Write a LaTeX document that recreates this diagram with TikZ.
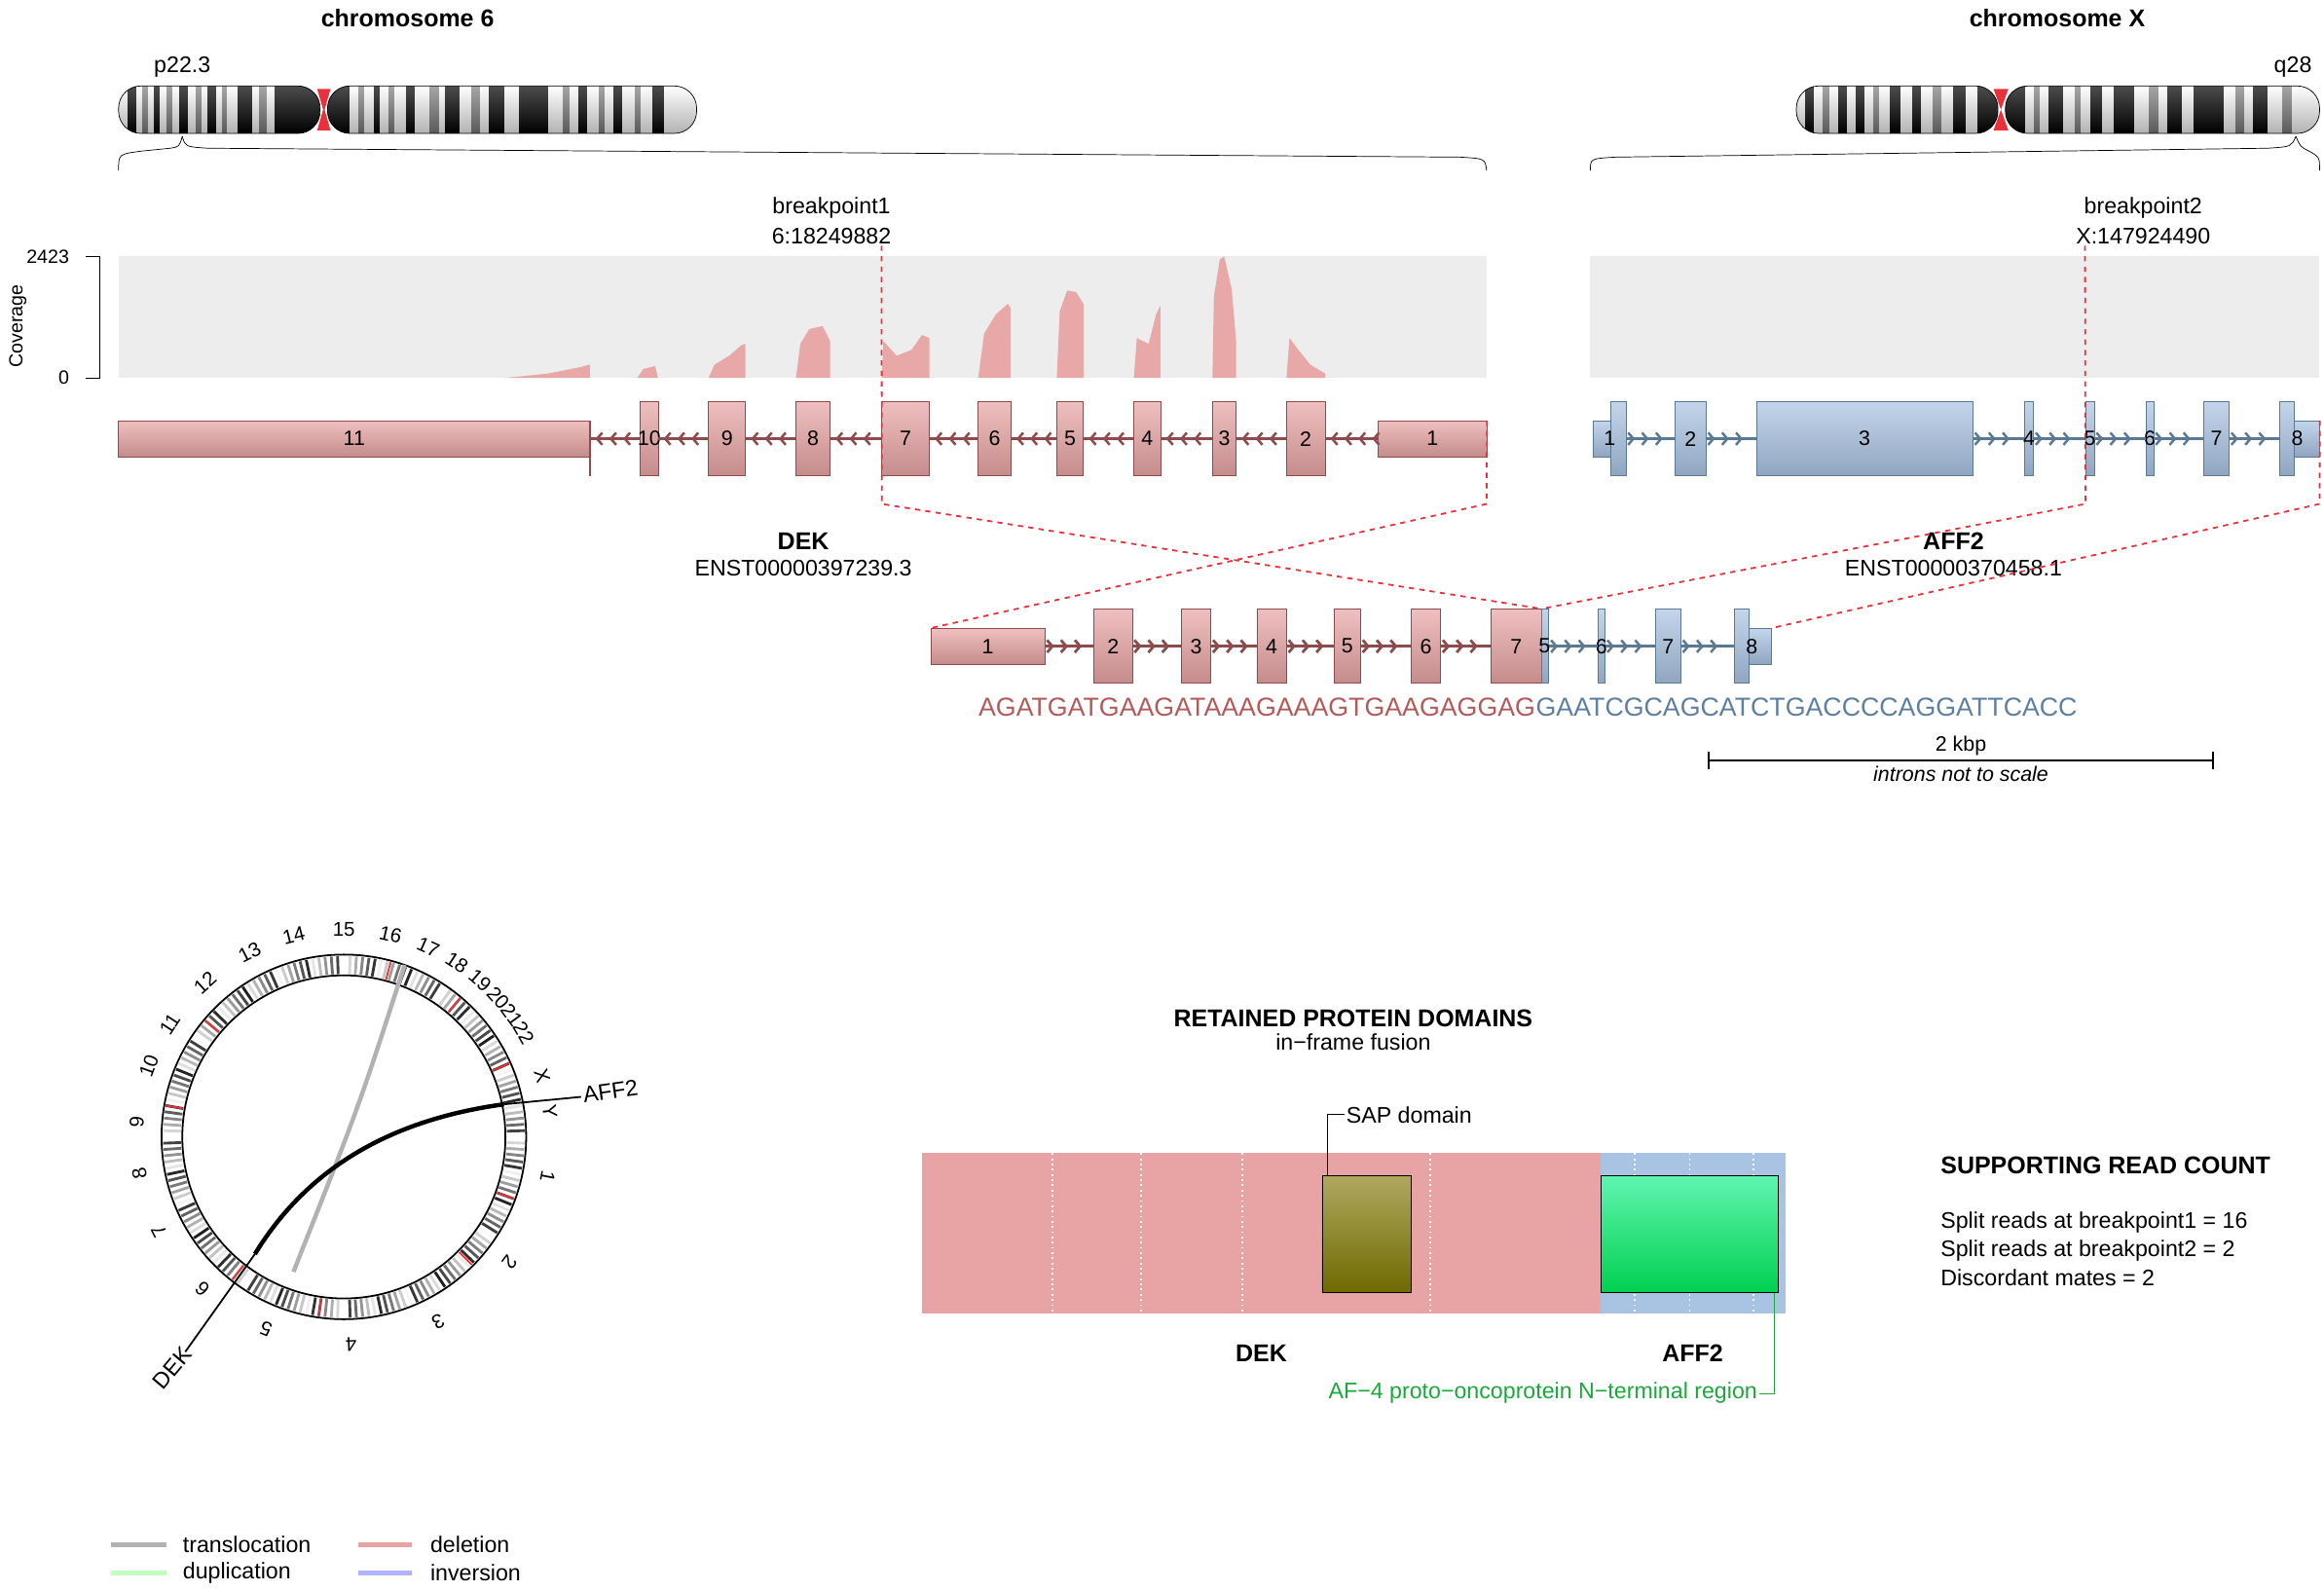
\documentclass[tikz,border=0pt]{standalone}
\usepackage{fontspec}
\setmainfont{Liberation Sans}
\usetikzlibrary{positioning,fit,arrows.meta,decorations.markings}
\definecolor{dekfill}{HTML}{E8A4A4}
\definecolor{dekline}{HTML}{8E4B4B}
\definecolor{afffill}{HTML}{A9C3E2}
\definecolor{affline}{HTML}{5B7894}
\definecolor{covbg}{HTML}{EDEDED}
\definecolor{covpink}{HTML}{E8A8A8}
\definecolor{seqred}{HTML}{B35A5A}
\definecolor{seqblue}{HTML}{5E7FA0}
\definecolor{brk}{HTML}{E8313A}
\definecolor{afgreen}{HTML}{1AA83A}
\definecolor{saptop}{HTML}{B0A860}
\definecolor{sapbot}{HTML}{6E6A00}
\definecolor{aftop}{HTML}{60F5B0}
\definecolor{afbot}{HTML}{00D050}
\newcommand{\exonbox}[7]{\node[#1, fit={(#3,{#5-#6}) (#4,{#5+#6})}] (#2) {}; \node[exlab] at (#2.center) {#7};}
\tikzset{
  base/.style={font=\fontsize{13}{15}\selectfont, inner sep=1pt},
  bold/.style={base, font=\fontsize{14}{16}\selectfont\bfseries},
  exonR/.style={draw=dekline, top color=dekfill!70!white, bottom color=dekfill!85!black, inner sep=0pt},
  exonB/.style={draw=affline, top color=afffill!70!white, bottom color=afffill!85!black, inner sep=0pt},
  exlab/.style={font=\fontsize{12}{14}\selectfont, inner sep=0pt},
  intronR/.style={draw=dekline, line width=1.6pt, postaction={decorate},
    decoration={markings, mark=between positions 3pt and -3pt step 8pt with {\arrowreversed{Straight Barb[length=3pt,width=7pt,line width=1.4pt]}}}},
  intronB/.style={draw=affline, line width=1.6pt, postaction={decorate},
    decoration={markings, mark=between positions 5pt and -3pt step 8pt with {\arrow{Straight Barb[length=3pt,width=7pt,line width=1.4pt]}}}},
  brkline/.style={draw=brk, dashed, line width=1pt},
  cov/.style={fill=covpink},
}
\begin{document}
\begin{tikzpicture}[x=0.03cm,y=-0.03cm]
\useasboundingbox (0,0) rectangle (1568,1073);

% chromosomes
\node[bold] (chr6) at (275,12) {chromosome 6};
\node[bold] (chrX) at (1388,12) {chromosome X};
\node[base] (p223) at (123,45) {p22.3};
\node[base] (q28) at (1547,45) {q28};
\begin{scope}
  \clip[rounded corners=0.45cm] (80,58) rectangle (216,90);
  \fill[white] (80,58) rectangle (216,90);
  \foreach \a/\b/\c in {86/92/black,96/100/gray,104/108/black,112/116/gray,121/127/black,132/136/gray,140/146/black,150/153/gray,160/170/black,175/180/gray,185/216/black}
    \fill[\c] (\a,58) rectangle (\b,90);
  \shade[top color=white, bottom color=black, opacity=0.3] (80,58) rectangle (216,90);
\end{scope}
\draw[rounded corners=0.45cm] (80,58) rectangle (216,90);
\begin{scope}
  \clip[rounded corners=0.45cm] (221,58) rectangle (470,90);
  \fill[white] (221,58) rectangle (470,90);
  \foreach \a/\b/\c in {221/236/black,242/246/gray,252/256/black,262/266/gray,274/280/black,290/296/gray,300/310/black,318/324/gray,330/340/black,350/370/black,380/384/gray,390/396/black,404/408/gray,414/420/black,428/432/gray,440/448/black}
    \fill[\c] (\a,58) rectangle (\b,90);
  \shade[top color=white, bottom color=black, opacity=0.3] (221,58) rectangle (470,90);
\end{scope}
\draw[rounded corners=0.45cm] (221,58) rectangle (470,90);
\fill[brk] (214,60) -- (223,60) -- (219,74) -- (223,88) -- (214,88) -- (218,74) -- cycle;
\begin{scope}
  \clip[rounded corners=0.45cm] (1212,58) rectangle (1348,90);
  \fill[white] (1212,58) rectangle (1348,90);
  \foreach \a/\b/\c in {1218/1224/black,1230/1234/gray,1240/1246/black,1252/1258/black,1264/1268/gray,1275/1282/black,1290/1296/black,1304/1310/gray,1318/1326/black,1334/1348/black}
    \fill[\c] (\a,58) rectangle (\b,90);
  \shade[top color=white, bottom color=black, opacity=0.3] (1212,58) rectangle (1348,90);
\end{scope}
\draw[rounded corners=0.45cm] (1212,58) rectangle (1348,90);
\begin{scope}
  \clip[rounded corners=0.45cm] (1353,58) rectangle (1565,90);
  \fill[white] (1353,58) rectangle (1565,90);
  \foreach \a/\b/\c in {1353/1366/black,1372/1376/gray,1382/1392/black,1400/1404/gray,1410/1418/black,1426/1440/black,1450/1456/gray,1462/1472/black,1480/1500/black,1508/1514/gray,1520/1530/black,1540/1546/gray}
    \fill[\c] (\a,58) rectangle (\b,90);
  \shade[top color=white, bottom color=black, opacity=0.3] (1353,58) rectangle (1565,90);
\end{scope}
\draw[rounded corners=0.45cm] (1353,58) rectangle (1565,90);
\fill[brk] (1345,60) -- (1355,60) -- (1350,74) -- (1355,88) -- (1345,88) -- (1350,74) -- cycle;
% braces
\draw (80,115) .. controls (80,104) .. (95,102) -- (115,100) .. controls (121,99) .. (123,92);
\draw (123,92) .. controls (125,99) .. (140,100) -- (985,106) .. controls (1002,107) .. (1003,115);
\draw (1073,115) .. controls (1073,107) .. (1090,106) -- (1530,100) .. controls (1546,99) .. (1549,92);
\draw (1549,92) .. controls (1552,99) .. (1558,102) .. controls (1565,106) .. (1565,115);

% coverage
\fill[covbg] (80,173) rectangle (1003,255);
\fill[covbg] (1073,173) rectangle (1565,255);
\draw (58,173) -- (67,173) -- (67,255) -- (58,255);
\node[base, anchor=east, font=\fontsize{11}{13}\selectfont] (c2423) at (48,173) {2423};
\node[base, anchor=east, font=\fontsize{11}{13}\selectfont] (c0) at (48,255) {0};
\node[base, rotate=90, font=\fontsize{11}{13}\selectfont] (covlab) at (12,220) {Coverage};
\fill[cov] (340,255) -- (370,252) -- (390,248) -- (398,246) -- (398,255) -- cycle;
\fill[cov] (430,255) -- (434,249) -- (442,247) -- (444,255) -- cycle;
\fill[cov] (478,255) -- (482,246) -- (492,240) -- (500,233) -- (503,232) -- (503,255) -- cycle;
\fill[cov] (537,255) -- (540,232) -- (546,222) -- (555,220) -- (560,230) -- (560,255) -- cycle;
\fill[cov] (595,255) -- (596,230) -- (605,240) -- (615,236) -- (622,226) -- (627,228) -- (627,255) -- cycle;
\fill[cov] (660,255) -- (664,225) -- (672,212) -- (680,205) -- (682,208) -- (682,255) -- cycle;
\fill[cov] (713,255) -- (715,210) -- (720,196) -- (726,197) -- (731,205) -- (731,255) -- cycle;
\fill[cov] (765,255) -- (767,228) -- (775,232) -- (780,212) -- (783,206) -- (783,255) -- cycle;
\fill[cov] (818,255) -- (819,200) -- (823,175) -- (826,173) -- (831,195) -- (834,230) -- (834,255) -- cycle;
\fill[cov] (868,255) -- (870,228) -- (876,236) -- (884,246) -- (894,252) -- (894,255) -- cycle;

% breakpoints
\node[base] (bp1) at (561,140) {breakpoint1};
\node[base] (bp1pos) at (561,159) {6:18249882};
\node[base] (bp2) at (1446,140) {breakpoint2};
\node[base] (bp2pos) at (1446,159) {X:147924490};

% DEK
\exonbox{exonR}{d11}{80}{398}{296}{12}{11}
\exonbox{exonR}{d10}{432}{444}{296}{25}{10}
\exonbox{exonR}{d9}{478}{503}{296}{25}{9}
\exonbox{exonR}{d8}{537}{560}{296}{25}{8}
\exonbox{exonR}{d7}{595}{627}{296}{25}{7}
\exonbox{exonR}{d6}{660}{682}{296}{25}{6}
\exonbox{exonR}{d5}{713}{731}{296}{25}{5}
\exonbox{exonR}{d4}{765}{783}{296}{25}{4}
\exonbox{exonR}{d3}{818}{834}{296}{25}{3}
\exonbox{exonR}{d2}{868}{894}{296}{25}{2}
\exonbox{exonR}{d1}{930}{1003}{296}{12}{1}
\draw[dekline, line width=1.5pt] (398,284) -- (398,321);
\foreach \a/\b in {d11/d10,d10/d9,d9/d8,d8/d7,d7/d6,d6/d5,d5/d4,d4/d3,d3/d2,d2/d1}
  \draw[intronR] (\a.east) -- (\b.west);
\node[bold] (dek) at (542,365) {DEK};
\node[base] (dekid) at (542,383) {ENST00000397239.3};

% AFF2
\exonbox{exonB}{a1s}{1075}{1087}{296}{12}{}
\exonbox{exonB}{a1}{1087}{1097}{296}{25}{}
\node[exlab] at (1086,296) {1};
\exonbox{exonB}{a2}{1130}{1151}{296}{25}{2}
\exonbox{exonB}{a3}{1185}{1331}{296}{25}{3}
\exonbox{exonB}{a4}{1366}{1372}{296}{25}{4}
\exonbox{exonB}{a5}{1407}{1413}{296}{25}{5}
\exonbox{exonB}{a6}{1448}{1453}{296}{25}{6}
\exonbox{exonB}{a7}{1487}{1504}{296}{25}{7}
\exonbox{exonB}{a8}{1538}{1548}{296}{25}{}
\exonbox{exonB}{a8s}{1548}{1565}{296}{12}{}
\node[exlab] at (1550,296) {8};
\foreach \a/\b in {a1/a2,a2/a3,a3/a4,a4/a5,a5/a6,a6/a7,a7/a8}
  \draw[intronB] (\a.east) -- (\b.west);
\node[bold] (aff) at (1318,365) {AFF2};
\node[base] (affid) at (1318,383) {ENST00000370458.1};

% fusion
\exonbox{exonR}{f1}{628}{705}{436}{12}{1}
\exonbox{exonR}{f2}{738}{764}{436}{25}{2}
\exonbox{exonR}{f3}{797}{817}{436}{25}{3}
\exonbox{exonR}{f4}{848}{868}{436}{25}{4}
\exonbox{exonR}{f5}{900}{918}{436}{25}{5}
\exonbox{exonR}{f6}{952}{972}{436}{25}{6}
\exonbox{exonR}{f7}{1006}{1040}{436}{25}{7}
\exonbox{exonB}{g5}{1040}{1045}{436}{25}{}
\node[exlab] at (1042,436) {5};
\exonbox{exonB}{g6}{1078}{1083}{436}{25}{6}
\exonbox{exonB}{g7}{1117}{1134}{436}{25}{7}
\exonbox{exonB}{g8}{1170}{1180}{436}{25}{}
\exonbox{exonB}{g8s}{1180}{1195}{436}{12}{}
\node[exlab] at (1182,436) {8};
\foreach \a/\b in {f1/f2,f2/f3,f3/f4,f4/f5,f5/f6,f6/f7}
  \draw[intronB, draw=dekline, decoration={markings, mark=between positions 5pt and -3pt step 8pt with {\arrow[dekline]{Straight Barb[length=3pt,width=7pt,line width=1.4pt]}}}] (\a.east) -- (\b.west);
\foreach \a/\b in {g5/g6,g6/g7,g7/g8}
  \draw[intronB] (\a.east) -- (\b.west);
\node[inner sep=0, anchor=west, text=seqred, font=\fontsize{15}{17}\selectfont] (seq1) at (660,477) {AGATGATGAAGATAAAGAAAGTGAAGAGGAG};
\node[inner sep=0, right=0pt of seq1, text=seqblue, font=\fontsize{15}{17}\selectfont] (seq2) {GAATCGCAGCATCTGACCCCAGGATTCACC};

% breakpoint guides
\coordinate (k1) at (595,340);
\coordinate (k2) at (1003,340);
\coordinate (k3) at (1407,340);
\coordinate (k4) at (1565,340);
\draw[brkline] (bp1pos.south -| d7.west) -- (k1) -- (f7.north east);
\draw[brkline] (d1.north east) -- (k2) -- (f1.north west);
\draw[brkline] (bp2pos.south -| a5.west) -- (k3) -- (g5.north west);
\draw[brkline] (a8s.north east) -- (k4) -- (g8s.north east);

% scale bar
\coordinate (s1) at (1153,513);
\coordinate (s2) at (1493,513);
\draw[line width=1pt] (s1) -- (s2);
\draw[line width=1pt] (1153,507) -- (1153,519) (1493,507) -- (1493,519);
\node[base, font=\fontsize{12}{14}\selectfont] (kbp) at (1323,503) {2 kbp};
\node[base, font=\fontsize{12}{14}\selectfont\itshape] (nts) at (1323,522) {introns not to scale};

% circos
\begin{scope}[shift={(232,767)}, y=0.03cm]
  \foreach \t in {0,2,...,358} {
    \pgfmathtruncatemacro\g{mod(\t*37,90)}
    \draw[line width=1.6pt, black!\g] (\t:110) -- (\t:122);
  }
  \foreach \t in {-20,-45,-98,-128,170,140,75,50,24} \draw[line width=1pt, brk] (\t:110) -- (\t:122);
  \draw[line width=1pt] (0,0) circle (123) circle (109);
  \draw[gray!60, line width=2.5pt] (41,116) .. controls (10,20) .. (-34,-91);
  \draw[line width=2.5pt] (108,22) .. controls (20,10) and (-30,-30) .. (-60,-79);
  \draw[line width=1pt] (-60,-79) -- (-107,-145);
  \draw[line width=1pt] (108,22) -- (160,27);
  \node[base, rotate=50, anchor=east] (cdek) at (-105,-143) {DEK};
  \node[base, rotate=8, anchor=west] (caff) at (160,28) {AFF2};
  \foreach \l/\t in {1/-11,2/-37,3/-63,4/-88,5/-112,6/-133,7/-153,8/-170,9/176,10/160,11/147,12/132,13/117,14/104,15/90,16/77,17/66,18/57,19/49,20/42,21/36,22/30,X/17,Y/7}
    \node[base, font=\fontsize{11.5}{13}\selectfont, inner sep=0pt, rotate=\t-90] at (\t:140) {\l};
\end{scope}

% protein domains
\node[bold] (rpd) at (913,687) {RETAINED PROTEIN DOMAINS};
\node[base] (ifr) at (913,703) {in−frame fusion};
\fill[dekfill] (622,778) rectangle (1080,886);
\fill[afffill] (1080,778) rectangle (1205,886);
\foreach \x in {710,770,838,965,1103,1140,1183}
  \draw[white, dotted, line width=1pt] (\x,778) -- (\x,886);
\node[draw, top color=saptop, bottom color=sapbot, inner sep=0, fit={(892,793) (952,872)}] (sap) {};
\node[draw, top color=aftop, bottom color=afbot, inner sep=0, fit={(1080,793) (1200,872)}] (af4) {};
\node[base, anchor=west] (saplab) at (907,752) {SAP domain};
\draw (sap.north west) ++(4,0) |- (saplab.west);
\node[base, anchor=east, text=afgreen] (af4lab) at (1187,940) {AF−4 proto−oncoprotein N−terminal region};
\draw[afgreen] (af4.south east) ++(-3,0) |- (af4lab.east);
\node[bold] (pdek) at (851,913) {DEK};
\node[bold] (paff) at (1142,913) {AFF2};

% read counts
\node[bold, anchor=west] (src) at (1308,786) {SUPPORTING READ COUNT};
\node[base, anchor=west] (r1) at (1308,825) {Split reads at breakpoint1 = 16};
\node[base, anchor=west] (r2) at (1308,844) {Split reads at breakpoint2 = 2};
\node[base, anchor=west] (r3) at (1308,862) {Discordant mates = 2};

% legend
\node[base, anchor=west] (ltr) at (122,1042) {translocation};
\node[base, anchor=west] (ldel) at (289,1042) {deletion};
\node[base, anchor=west] (ldup) at (122,1061) {duplication};
\node[base, anchor=west] (linv) at (289,1061) {inversion};
\draw[gray!60, line width=3pt] (75,1042) -- (112,1042);
\draw[dekfill, line width=3pt] (242,1042) -- (278,1042);
\draw[green!25, line width=3pt] (75,1061) -- (112,1061);
\draw[blue!30, line width=3pt] (242,1061) -- (278,1061);
\end{tikzpicture}
\end{document}
